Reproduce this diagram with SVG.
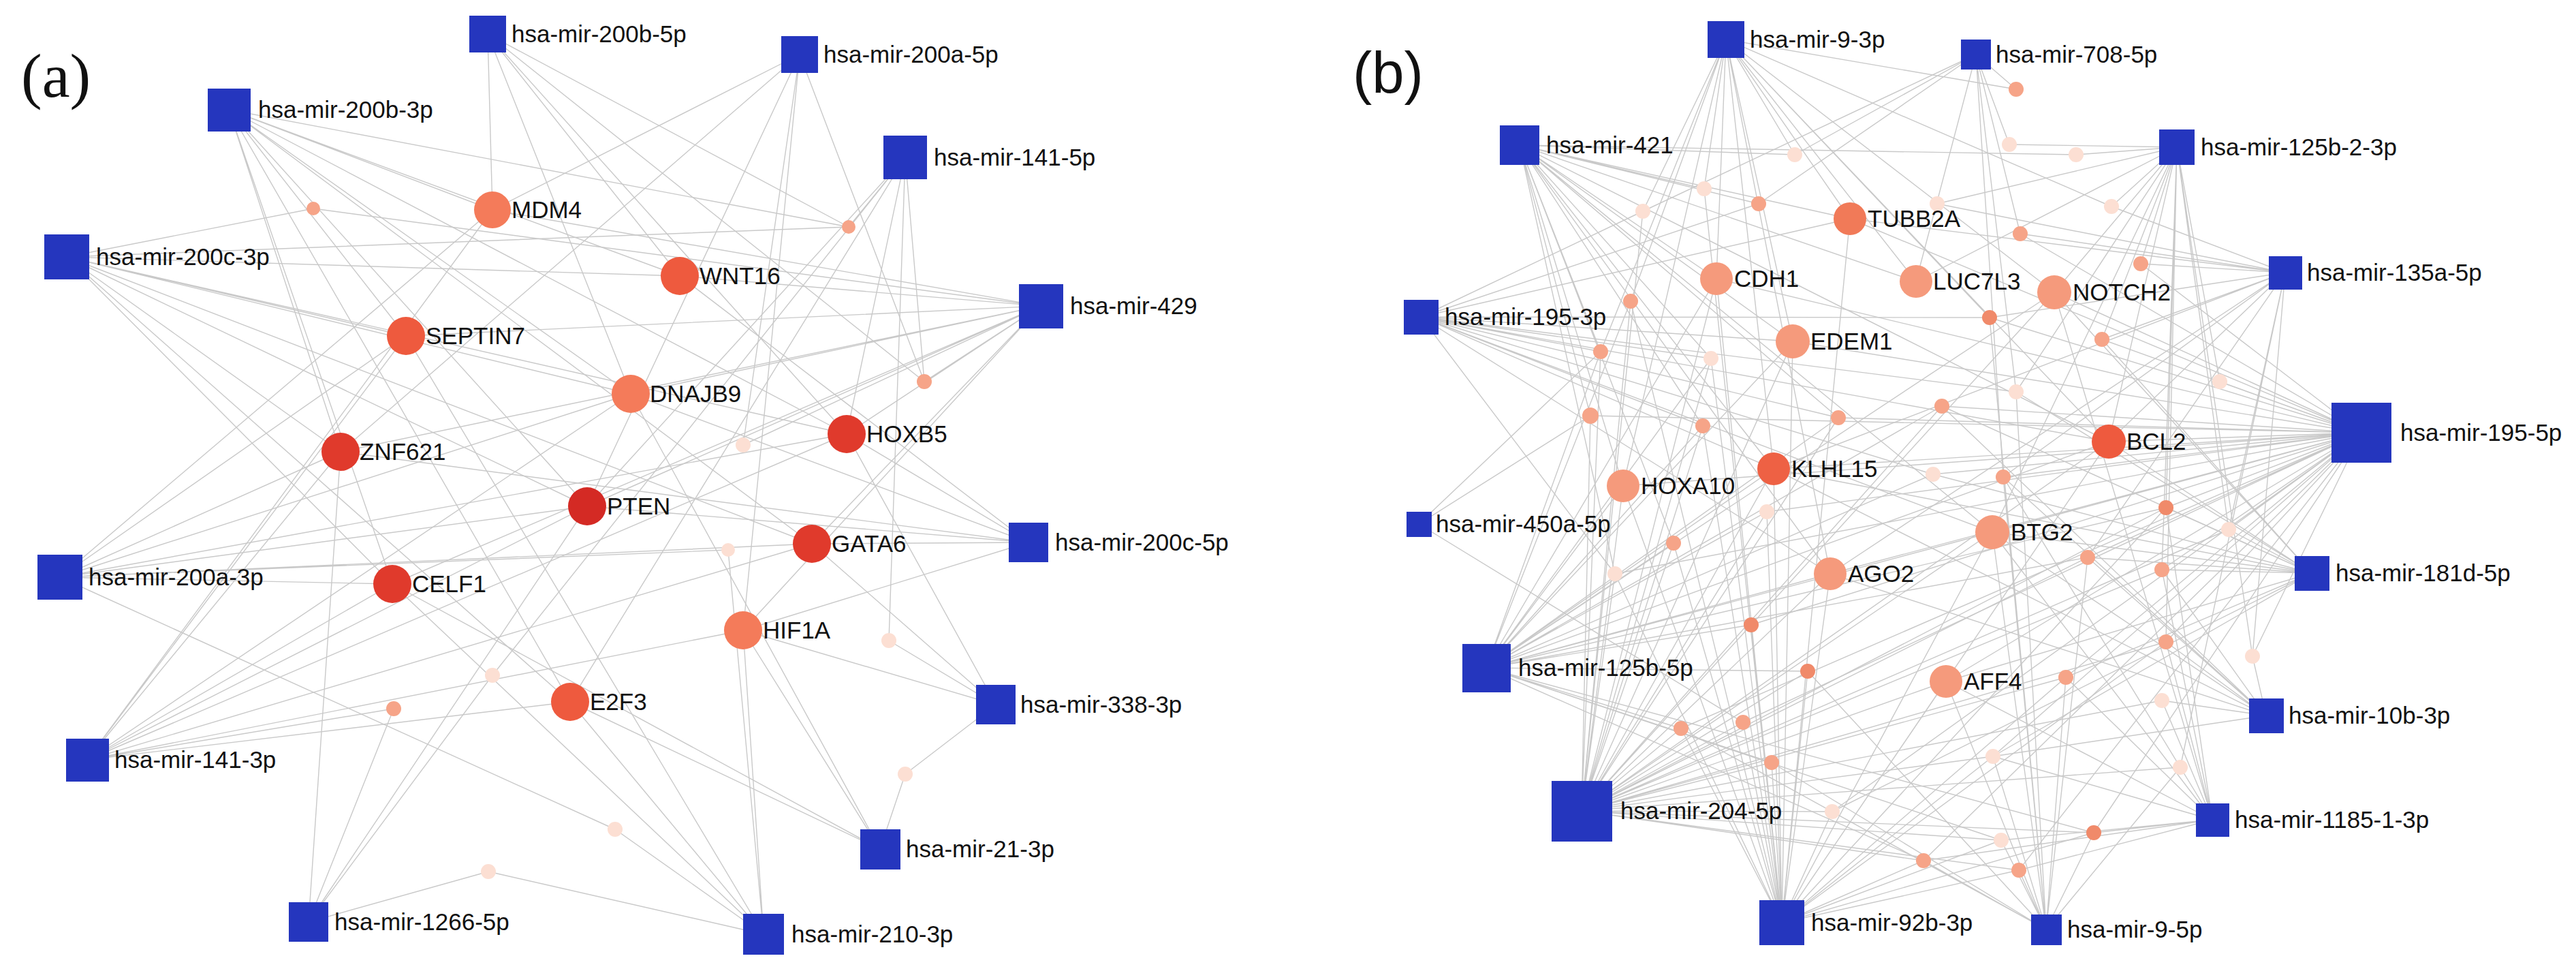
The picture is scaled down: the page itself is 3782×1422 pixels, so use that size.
<svg xmlns="http://www.w3.org/2000/svg" width="3782" height="1422" viewBox="0 0 3782 1422">
<style>
.bg{fill:#ffffff}
.e path{fill:none;stroke:#c9c9c9;stroke-width:1.4}
.m{fill:#2536be}
.l{font-family:"Liberation Sans",Arial,sans-serif;font-size:35px;fill:#111}
.pa{font-family:"Liberation Serif","Times New Roman",serif;font-size:92px;fill:#111}
.pb{font-family:"Liberation Sans",Arial,sans-serif;font-size:85px;fill:#111}
.c1{fill:#d42a24}.c2{fill:#e03a2c}.c3{fill:#ee5a3e}.c4{fill:#f47b5a}
.c5{fill:#f59a7c}.c6{fill:#ee6144}.c7{fill:#f17a58}
.ds{fill:#f6a488}.dd{fill:#f08a6a}.dl{fill:#fcdfd3}
</style>
<rect class="bg" x="0" y="0" width="3782" height="1422"/>
<text class="pa" x="31" y="142">(a)</text>
<text class="pb" x="1986" y="136">(b)</text>
<g id="connectors" class="e">
<path id="e-200b-5p" d="M716 50L723 308M716 50L1246 333M716 50L998 405M716 50L1243 637M716 50L1357 560M716 50L926 578"/>
<path id="e-200a-5p" d="M1174 80L723 308M1174 80L1357 560M1174 80L1091 653M1174 80L1091 925M1174 80L500 663M1174 80L862 743"/>
<path id="e-200b-3p" d="M336 161L723 308M336 161L1246 333M336 161L998 405M336 161L926 578M336 161L1243 637M336 161L500 663M336 161L576 857M336 161L837 1030M336 161L596 493M336 161L862 743M336 161L1192 798"/>
<path id="e-141-5p" d="M1329 231L1246 333M1329 231L1357 560M1329 231L1305 940M1329 231L1243 637M1329 231L723 991M1329 231L837 1030M1329 231L862 743"/>
<path id="e-200c-3p" d="M98 377L460 306M98 377L1246 333M98 377L998 405M98 377L596 493M98 377L926 578M98 377L1243 637M98 377L500 663M98 377L576 857M98 377L862 743M98 377L837 1030M98 377L1192 798"/>
<path id="e-429" d="M1528 449L460 306M1528 449L998 405M1528 449L596 493M1528 449L926 578M1528 449L1357 560M1528 449L1243 637M1528 449L862 743M1528 449L500 663M1528 449L576 857M1528 449L1091 925M1528 449L1192 798M1528 449L1091 653M1528 449L723 308"/>
<path id="e-200c-5p" d="M1510 796L500 663M1510 796L926 578M1510 796L862 743M1510 796L1192 798M1510 796L1091 925M1510 796L1243 637M1510 796L998 405"/>
<path id="e-200a-3p" d="M88 847L576 857M88 847L862 743M88 847L1069 807M88 847L723 308M88 847L596 493M88 847L903 1217M88 847L1243 637M88 847L1192 798M88 847L926 578M88 847L500 663"/>
<path id="e-338-3p" d="M1462 1034L1091 925M1462 1034L1305 940M1462 1034L1192 798M1462 1034L1329 1136M1462 1034L1243 637"/>
<path id="e-141-3p" d="M128 1115L723 308M128 1115L596 493M128 1115L500 663M128 1115L576 857M128 1115L862 743M128 1115L926 578M128 1115L1243 637M128 1115L1192 798M128 1115L1091 925M128 1115L837 1030M128 1115L578 1040"/>
<path id="e-21-3p" d="M1292 1246L1329 1136M1292 1246L1091 925M1292 1246L576 857M1292 1246L926 578M1292 1246L837 1030"/>
<path id="e-1266-5p" d="M453 1353L578 1040M453 1353L723 991M453 1353L717 1279M453 1353L862 743M453 1353L500 663"/>
<path id="e-210-3p" d="M1121 1371L1091 925M1121 1371L1069 807M1121 1371L837 1030M1121 1371L717 1279M1121 1371L903 1217M1121 1371L576 857M1121 1371L596 493"/>
<path id="e-9-3p" d="M2534 58L2960 131M2534 58L2502 277M2534 58L2412 310M2534 58L2520 409M2534 58L2716 321M2534 58L2632 501M2534 58L2813 413M2534 58L3016 429M2534 58L2604 688M2534 58L2383 713M2534 58L2394 442M2534 58L3100 303M2534 58L2921 466M2534 58L3096 648M2534 58L2350 516M2534 58L2687 842M2534 58L2635 227"/>
<path id="e-708-5p" d="M2901 80L2960 131M2901 80L2950 212M2901 80L2966 343M2901 80L2582 299M2901 80L2412 310M2901 80L2813 413M2901 80L2960 575M2901 80L2941 700M2901 80L2635 227"/>
<path id="e-421" d="M2231 213L3048 227M2231 213L2502 277M2231 213L2582 299M2231 213L2716 321M2231 213L2520 409M2231 213L2632 501M2231 213L2604 688M2231 213L2383 713M2231 213L2350 516M2231 213L2335 610M2231 213L2500 625M2231 213L2457 797M2231 213L2687 842M2231 213L2925 781M2231 213L2699 613M2231 213L3096 648M2231 213L2371 842M2231 213L2813 413M2231 213L2512 526M2231 213L2635 227"/>
<path id="e-125b-2-3p" d="M3196 216L3048 227M3196 216L3100 303M3196 216L3143 387M3196 216L3016 429M3196 216L3259 560M3196 216L3180 745M3196 216L3180 942M3196 216L3174 836M3196 216L3096 648M3196 216L2960 575M3196 216L2925 781M3196 216L3086 498M3196 216L3307 963M3196 216L2813 413M3196 216L3272 777M3196 216L2844 299M3196 216L2950 212"/>
<path id="e-135a-5p" d="M3355 400L3143 387M3355 400L2966 343M3355 400L3100 303M3355 400L2716 321M3355 400L3086 498M3355 400L3096 648M3355 400L2941 700M3355 400L2687 842M3355 400L3272 777M3355 400L3307 963M3355 400L3201 1126M3355 400L3065 818M3355 400L2604 688M3355 400L2921 466M3355 400L2844 299"/>
<path id="e-195-3p" d="M2086 465L2921 466M2086 465L2716 321M2086 465L2582 299M2086 465L2412 310M2086 465L2350 516M2086 465L2512 526M2086 465L2632 501M2086 465L2500 625M2086 465L2604 688M2086 465L3096 648M2086 465L2687 842M2086 465L2925 781M2086 465L2371 842M2086 465L2699 613M2086 465L2960 575M2086 465L2838 696"/>
<path id="e-195-5p" d="M3467 635L3096 648M3467 635L3259 560M3467 635L3086 498M3467 635L3016 429M3467 635L2851 596M3467 635L2335 610M3467 635L2699 613M3467 635L2604 688M3467 635L2632 501M3467 635L2921 466M3467 635L2838 696M3467 635L2594 751M3467 635L3180 745M3467 635L2925 781M3467 635L2687 842M3467 635L2571 917M3467 635L2383 713M3467 635L2371 842M3467 635L2559 1060M3467 635L3174 836M3467 635L3180 942M3467 635L3307 963M3467 635L3272 777M3467 635L2857 1000M3467 635L3033 994M3467 635L2926 1110M3467 635L3074 1222M3467 635L2964 1277M3467 635L2824 1263M3467 635L2690 1191M3467 635L2468 1069M3467 635L3065 818M3467 635L2941 700M3467 635L2716 321M3467 635L2966 343M3467 635L3143 387M3467 635L2520 409"/>
<path id="e-450a-5p" d="M2083 769L2335 610M2083 769L2559 1060M2083 769L2350 516"/>
<path id="e-181d-5p" d="M3394 841L3272 777M3394 841L3096 648M3394 841L2925 781M3394 841L2851 596M3394 841L2838 696M3394 841L3180 745M3394 841L3174 836M3394 841L3033 994M3394 841L2857 1000M3394 841L2926 1110M3394 841L3065 818M3394 841L2604 688M3394 841L2690 1191M3394 841L2960 575M3394 841L3086 498M3394 841L3016 429"/>
<path id="e-125b-5p" d="M2182 980L2383 713M2182 980L2350 516M2182 980L2394 442M2182 980L2520 409M2182 980L2632 501M2182 980L2604 688M2182 980L2500 625M2182 980L2699 613M2182 980L2851 596M2182 980L3096 648M2182 980L3016 429M2182 980L2925 781M2182 980L2687 842M2182 980L2571 917M2182 980L2654 985M2182 980L2457 797M2182 980L2594 751M2182 980L2838 696M2182 980L3180 745M2182 980L3065 818M2182 980L2468 1069M2182 980L2601 1119M2182 980L2938 1233M2182 980L2824 1263M2182 980L3074 1222M2182 980L2512 526"/>
<path id="e-10b-3p" d="M3327 1050L3174 1028M3327 1050L3307 963M3327 1050L3180 942M3327 1050L3174 836M3327 1050L2925 781M3327 1050L2941 700M3327 1050L3065 818M3327 1050L2926 1110M3327 1050L2687 842M3327 1050L2851 596M3327 1050L2604 688"/>
<path id="e-204-5p" d="M2322 1190L2383 713M2322 1190L2457 797M2322 1190L2371 842M2322 1190L2571 917M2322 1190L2687 842M2322 1190L2604 688M2322 1190L2632 501M2322 1190L2520 409M2322 1190L2500 625M2322 1190L2699 613M2322 1190L2851 596M2322 1190L3096 648M2322 1190L3016 429M2322 1190L2925 781M2322 1190L2654 985M2322 1190L3065 818M2322 1190L3180 745M2322 1190L3272 777M2322 1190L3174 836M2322 1190L3180 942M2322 1190L2857 1000M2322 1190L3033 994M2322 1190L2559 1060M2322 1190L2601 1119M2322 1190L2926 1110M2322 1190L2468 1069M2322 1190L2690 1191M2322 1190L2938 1233M2322 1190L3074 1222M2322 1190L2824 1263M2322 1190L2964 1277M2322 1190L3201 1126M2322 1190L3174 1028M2322 1190L2350 516M2322 1190L2394 442M2322 1190L2335 610M2322 1190L2412 310M2322 1190L2512 526M2322 1190L2594 751"/>
<path id="e-1185-1-3p" d="M3248 1203L3074 1222M3248 1203L2938 1233M3248 1203L3201 1126M3248 1203L2926 1110M3248 1203L2857 1000M3248 1203L3180 942M3248 1203L3174 836M3248 1203L2941 700M3248 1203L2925 781M3248 1203L2824 1263M3248 1203L2964 1277M3248 1203L3033 994M3248 1203L3180 745M3248 1203L3016 429M3248 1203L3174 1028"/>
<path id="e-92b-3p" d="M2616 1354L2601 1119M2616 1354L2559 1060M2616 1354L2468 1069M2616 1354L2690 1191M2616 1354L2687 842M2616 1354L2604 688M2616 1354L2632 501M2616 1354L2520 409M2616 1354L2383 713M2616 1354L2457 797M2616 1354L2371 842M2616 1354L2571 917M2616 1354L2654 985M2616 1354L2500 625M2616 1354L2512 526M2616 1354L2594 751M2616 1354L2857 1000M2616 1354L2925 781M2616 1354L2926 1110M2616 1354L2938 1233M2616 1354L2824 1263M2616 1354L2964 1277M2616 1354L3033 994M2616 1354L3180 942M2616 1354L3096 648M2616 1354L3180 745M2616 1354L3074 1222M2616 1354L2394 442M2616 1354L2502 277M2616 1354L2716 321"/>
<path id="e-9-5p" d="M3004 1364L2964 1277M3004 1364L2824 1263M3004 1364L2938 1233M3004 1364L3074 1222M3004 1364L2857 1000M3004 1364L2926 1110M3004 1364L3033 994M3004 1364L2925 781M3004 1364L3065 818M3004 1364L2941 700M3004 1364L2960 575M3004 1364L2921 466M3004 1364L2654 985M3004 1364L2468 1069M3004 1364L2690 1191M3004 1364L2601 1119M3004 1364L3201 1126"/>
</g>
<g id="panel-a-mirna">
<g id="a-200b-5p"><rect class="m" x="689" y="23" width="54" height="54"/><text class="l" x="751" y="62">hsa-mir-200b-5p</text></g>
<g id="a-200a-5p"><rect class="m" x="1147" y="53" width="54" height="54"/><text class="l" x="1209" y="92">hsa-mir-200a-5p</text></g>
<g id="a-200b-3p"><rect class="m" x="305" y="130" width="63" height="63"/><text class="l" x="379" y="173">hsa-mir-200b-3p</text></g>
<g id="a-141-5p"><rect class="m" x="1297" y="199" width="64" height="64"/><text class="l" x="1371" y="243">hsa-mir-141-5p</text></g>
<g id="a-200c-3p"><rect class="m" x="65" y="344" width="66" height="66"/><text class="l" x="141" y="389">hsa-mir-200c-3p</text></g>
<g id="a-429"><rect class="m" x="1496" y="417" width="65" height="65"/><text class="l" x="1571" y="461">hsa-mir-429</text></g>
<g id="a-200c-5p"><rect class="m" x="1481" y="767" width="58" height="58"/><text class="l" x="1549" y="808">hsa-mir-200c-5p</text></g>
<g id="a-200a-3p"><rect class="m" x="55" y="814" width="66" height="66"/><text class="l" x="130" y="859">hsa-mir-200a-3p</text></g>
<g id="a-338-3p"><rect class="m" x="1433" y="1005" width="58" height="58"/><text class="l" x="1498" y="1046">hsa-mir-338-3p</text></g>
<g id="a-141-3p"><rect class="m" x="97" y="1084" width="63" height="63"/><text class="l" x="168" y="1127">hsa-mir-141-3p</text></g>
<g id="a-21-3p"><rect class="m" x="1263" y="1217" width="59" height="59"/><text class="l" x="1330" y="1258">hsa-mir-21-3p</text></g>
<g id="a-1266-5p"><rect class="m" x="424" y="1324" width="58" height="58"/><text class="l" x="491" y="1365">hsa-mir-1266-5p</text></g>
<g id="a-210-3p"><rect class="m" x="1091" y="1341" width="60" height="60"/><text class="l" x="1162" y="1383">hsa-mir-210-3p</text></g>
</g>
<g id="panel-a-genes">
<g id="a-MDM4"><circle class="c4" cx="723" cy="308" r="27"/><text class="l" x="751" y="320">MDM4</text></g>
<g id="a-WNT16"><circle class="c3" cx="998" cy="405" r="28"/><text class="l" x="1027" y="417">WNT16</text></g>
<g id="a-SEPTIN7"><circle class="c3" cx="596" cy="493" r="28"/><text class="l" x="625" y="505">SEPTIN7</text></g>
<g id="a-DNAJB9"><circle class="c4" cx="926" cy="578" r="28"/><text class="l" x="954" y="590">DNAJB9</text></g>
<g id="a-HOXB5"><circle class="c2" cx="1243" cy="637" r="28"/><text class="l" x="1272" y="649">HOXB5</text></g>
<g id="a-ZNF621"><circle class="c2" cx="500" cy="663" r="28"/><text class="l" x="528" y="675">ZNF621</text></g>
<g id="a-PTEN"><circle class="c1" cx="862" cy="743" r="28"/><text class="l" x="891" y="755">PTEN</text></g>
<g id="a-GATA6"><circle class="c2" cx="1192" cy="798" r="28"/><text class="l" x="1221" y="810">GATA6</text></g>
<g id="a-CELF1"><circle class="c2" cx="576" cy="857" r="28"/><text class="l" x="605" y="869">CELF1</text></g>
<g id="a-HIF1A"><circle class="c4" cx="1091" cy="925" r="28"/><text class="l" x="1120" y="937">HIF1A</text></g>
<g id="a-E2F3"><circle class="c3" cx="837" cy="1030" r="28"/><text class="l" x="866" y="1042">E2F3</text></g>
<circle id="a-d1" class="ds" cx="460" cy="306" r="10"/>
<circle id="a-d2" class="ds" cx="1246" cy="333" r="10"/>
<circle id="a-d3" class="ds" cx="1357" cy="560" r="11"/>
<circle id="a-d4" class="dl" cx="1091" cy="653" r="11"/>
<circle id="a-d5" class="dl" cx="1069" cy="807" r="10"/>
<circle id="a-d6" class="dl" cx="1305" cy="940" r="11"/>
<circle id="a-d7" class="dl" cx="723" cy="991" r="11"/>
<circle id="a-d8" class="ds" cx="578" cy="1040" r="11"/>
<circle id="a-d9" class="dl" cx="1329" cy="1136" r="11"/>
<circle id="a-d10" class="dl" cx="903" cy="1217" r="11"/>
<circle id="a-d11" class="dl" cx="717" cy="1279" r="11"/>
</g>
<g id="panel-b-mirna">
<g id="b-9-3p"><rect class="m" x="2507" y="31" width="54" height="54"/><text class="l" x="2569" y="70">hsa-mir-9-3p</text></g>
<g id="b-708-5p"><rect class="m" x="2879" y="58" width="44" height="44"/><text class="l" x="2930" y="92">hsa-mir-708-5p</text></g>
<g id="b-421"><rect class="m" x="2202" y="184" width="58" height="58"/><text class="l" x="2270" y="225">hsa-mir-421</text></g>
<g id="b-125b-2-3p"><rect class="m" x="3170" y="190" width="52" height="52"/><text class="l" x="3231" y="228">hsa-mir-125b-2-3p</text></g>
<g id="b-135a-5p"><rect class="m" x="3331" y="376" width="49" height="49"/><text class="l" x="3387" y="412">hsa-mir-135a-5p</text></g>
<g id="b-195-3p"><rect class="m" x="2061" y="440" width="51" height="51"/><text class="l" x="2121" y="477">hsa-mir-195-3p</text></g>
<g id="b-195-5p"><rect class="m" x="3423" y="591" width="88" height="88"/><text class="l" x="3524" y="647">hsa-mir-195-5p</text></g>
<g id="b-450a-5p"><rect class="m" x="2065" y="751" width="37" height="37"/><text class="l" x="2108" y="781">hsa-mir-450a-5p</text></g>
<g id="b-181d-5p"><rect class="m" x="3369" y="816" width="51" height="51"/><text class="l" x="3429" y="853">hsa-mir-181d-5p</text></g>
<g id="b-125b-5p"><rect class="m" x="2147" y="945" width="71" height="71"/><text class="l" x="2229" y="992">hsa-mir-125b-5p</text></g>
<g id="b-10b-3p"><rect class="m" x="3302" y="1025" width="51" height="51"/><text class="l" x="3360" y="1062">hsa-mir-10b-3p</text></g>
<g id="b-204-5p"><rect class="m" x="2278" y="1146" width="89" height="89"/><text class="l" x="2379" y="1202">hsa-mir-204-5p</text></g>
<g id="b-1185-1-3p"><rect class="m" x="3224" y="1179" width="49" height="49"/><text class="l" x="3281" y="1215">hsa-mir-1185-1-3p</text></g>
<g id="b-92b-3p"><rect class="m" x="2583" y="1321" width="66" height="66"/><text class="l" x="2659" y="1366">hsa-mir-92b-3p</text></g>
<g id="b-9-5p"><rect class="m" x="2982" y="1342" width="45" height="45"/><text class="l" x="3035" y="1376">hsa-mir-9-5p</text></g>
</g>
<g id="panel-b-genes">
<circle id="b-p1" class="ds" cx="2960" cy="131" r="11"/>
<circle id="b-p2" class="dl" cx="2635" cy="227" r="11"/>
<circle id="b-p3" class="dl" cx="2950" cy="212" r="11"/>
<circle id="b-p4" class="dl" cx="3048" cy="227" r="11"/>
<circle id="b-p5" class="dl" cx="2502" cy="277" r="11"/>
<circle id="b-p6" class="ds" cx="2582" cy="299" r="11"/>
<circle id="b-p7" class="dl" cx="2412" cy="310" r="11"/>
<circle id="b-p8" class="dl" cx="2844" cy="299" r="11"/>
<circle id="b-p9" class="dl" cx="3100" cy="303" r="11"/>
<circle id="b-p10" class="ds" cx="2966" cy="343" r="11"/>
<circle id="b-p11" class="ds" cx="3143" cy="387" r="11"/>
<circle id="b-p12" class="ds" cx="2394" cy="442" r="11"/>
<circle id="b-p13" class="dd" cx="2921" cy="466" r="11"/>
<circle id="b-p14" class="ds" cx="3086" cy="498" r="11"/>
<circle id="b-p15" class="ds" cx="2350" cy="516" r="11"/>
<circle id="b-p16" class="dl" cx="2512" cy="526" r="11"/>
<circle id="b-p17" class="dl" cx="3259" cy="560" r="11"/>
<circle id="b-p18" class="dl" cx="2960" cy="575" r="11"/>
<circle id="b-p19" class="ds" cx="2851" cy="596" r="11"/>
<circle id="b-p20" class="ds" cx="2335" cy="610" r="12"/>
<circle id="b-p21" class="ds" cx="2500" cy="625" r="11"/>
<circle id="b-p22" class="ds" cx="2699" cy="613" r="11"/>
<circle id="b-p23" class="dl" cx="2838" cy="696" r="11"/>
<circle id="b-p24" class="ds" cx="2941" cy="700" r="11"/>
<circle id="b-p25" class="dl" cx="2594" cy="751" r="11"/>
<circle id="b-p26" class="dd" cx="3180" cy="745" r="11"/>
<circle id="b-p27" class="dl" cx="3272" cy="777" r="11"/>
<circle id="b-p28" class="ds" cx="2457" cy="797" r="11"/>
<circle id="b-p29" class="ds" cx="3065" cy="818" r="11"/>
<circle id="b-p30" class="ds" cx="3174" cy="836" r="11"/>
<circle id="b-p31" class="dl" cx="2371" cy="842" r="11"/>
<circle id="b-p32" class="dd" cx="2571" cy="917" r="11"/>
<circle id="b-p33" class="dd" cx="2654" cy="985" r="11"/>
<circle id="b-p34" class="ds" cx="3033" cy="994" r="11"/>
<circle id="b-p35" class="ds" cx="3180" cy="942" r="11"/>
<circle id="b-p36" class="dl" cx="3307" cy="963" r="11"/>
<circle id="b-p37" class="dl" cx="3174" cy="1028" r="11"/>
<circle id="b-p38" class="ds" cx="2468" cy="1069" r="11"/>
<circle id="b-p39" class="ds" cx="2559" cy="1060" r="11"/>
<circle id="b-p40" class="ds" cx="2601" cy="1119" r="11"/>
<circle id="b-p41" class="dl" cx="2926" cy="1110" r="11"/>
<circle id="b-p42" class="dl" cx="3201" cy="1126" r="11"/>
<circle id="b-p43" class="dl" cx="2690" cy="1191" r="11"/>
<circle id="b-p44" class="dl" cx="2938" cy="1233" r="11"/>
<circle id="b-p45" class="dd" cx="3074" cy="1222" r="11"/>
<circle id="b-p46" class="ds" cx="2824" cy="1263" r="11"/>
<circle id="b-p47" class="ds" cx="2964" cy="1277" r="11"/>
<g id="b-TUBB2A"><circle class="c7" cx="2716" cy="321" r="24"/><text class="l" x="2742" y="333">TUBB2A</text></g>
<g id="b-CDH1"><circle class="c5" cx="2520" cy="409" r="24"/><text class="l" x="2546" y="421">CDH1</text></g>
<g id="b-LUC7L3"><circle class="c5" cx="2813" cy="413" r="24"/><text class="l" x="2838" y="425">LUC7L3</text></g>
<g id="b-NOTCH2"><circle class="c5" cx="3016" cy="429" r="25"/><text class="l" x="3043" y="441">NOTCH2</text></g>
<g id="b-EDEM1"><circle class="c5" cx="2632" cy="501" r="25"/><text class="l" x="2658" y="513">EDEM1</text></g>
<g id="b-BCL2"><circle class="c3" cx="3096" cy="648" r="25"/><text class="l" x="3122" y="660">BCL2</text></g>
<g id="b-KLHL15"><circle class="c6" cx="2604" cy="688" r="24"/><text class="l" x="2630" y="700">KLHL15</text></g>
<g id="b-HOXA10"><circle class="c5" cx="2383" cy="713" r="24"/><text class="l" x="2409" y="725">HOXA10</text></g>
<g id="b-BTG2"><circle class="c5" cx="2925" cy="781" r="25"/><text class="l" x="2952" y="793">BTG2</text></g>
<g id="b-AGO2"><circle class="c5" cx="2687" cy="842" r="24"/><text class="l" x="2713" y="854">AGO2</text></g>
<g id="b-AFF4"><circle class="c5" cx="2857" cy="1000" r="24"/><text class="l" x="2883" y="1012">AFF4</text></g>
</g>
</svg>
